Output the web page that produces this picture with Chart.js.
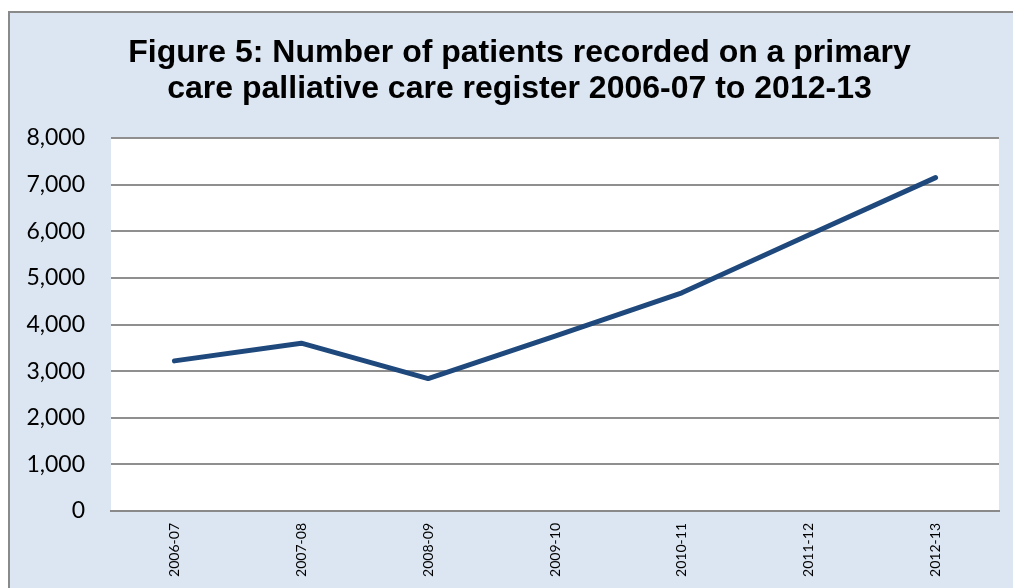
<!DOCTYPE html>
<html>
<head>
<meta charset="utf-8">
<script src="https://cdn.jsdelivr.net/npm/chart.js@4"></script>
<style>
  html, body { margin: 0; padding: 0; background: #ffffff; }
  #wrap { position: relative; width: 1013px; height: 588px; }
</style>
</head>
<body>
<div id="wrap"><canvas id="myChart" width="1013" height="588"></canvas></div>
<script>
// Datos
const categorias = ['2006-07', '2007-08', '2008-09', '2009-10', '2010-11', '2011-12', '2012-13']
const pacientes = [3220, 3600, 2840, 3750, 4680, 5920, 7150]
const tituloLineas = ['Figure 5: Number of patients recorded on a primary', 'care palliative care register 2006-07 to 2012-13']

// Fondo azul con borde gris y area de trazado blanca
const fondoPlugin = {
    id: 'fondo',
    beforeDraw(chart) {
        const ctx = chart.ctx
        const a = chart.chartArea
        ctx.save()
        ctx.fillStyle = '#dce6f2'
        ctx.fillRect(8, 11, chart.width, chart.height)
        ctx.strokeStyle = '#8a8a8a'
        ctx.lineWidth = 2
        ctx.beginPath()
        ctx.moveTo(9, chart.height + 2)
        ctx.lineTo(9, 12)
        ctx.lineTo(chart.width + 2, 12)
        ctx.stroke()
        ctx.fillStyle = '#ffffff'
        ctx.fillRect(a.left, a.top, a.right - a.left, a.bottom - a.top)
        ctx.restore()
    }
}

const ctx = document.querySelector('#myChart').getContext('2d')

new Chart(ctx, {
    type: 'line',
    data: {
        labels: categorias,
        datasets: [{
            label: 'Patients',
            data: pacientes,
            borderColor: '#1f497d',
            borderWidth: 5,
            pointRadius: 0,
            tension: 0,
            borderJoinStyle: 'round',
            borderCapStyle: 'round'
        }]
    },
    options: {
        responsive: false,
        animation: false,
        // sin padding derecho: el titulo queda centrado como en el original
        layout: { padding: { left: 26, right: 0, top: 0, bottom: 0 } },
        plugins: {
            legend: { display: false },
            tooltip: { enabled: false },
            title: {
                display: true,
                text: tituloLineas,
                color: '#000000',
                font: { family: '"Liberation Sans", Arial, sans-serif', size: 32, weight: 'bold', lineHeight: 1.125 },
                padding: { top: 35, bottom: 31 }
            }
        },
        scales: {
            x: {
                offset: true,
                grid: { display: false, drawTicks: false },
                border: { display: true, color: '#8a8a8a', width: 2 },
                ticks: {
                    minRotation: 90,
                    maxRotation: 90,
                    padding: 12,
                    color: '#000000',
                    font: { family: 'Lato, "Open Sans", sans-serif', size: 14 }
                },
                afterFit: (scale) => { scale.height = 77 }
            },
            y: {
                min: 0,
                max: 8000,
                grid: { color: '#8f8f8f', lineWidth: 2, drawTicks: false },
                border: { display: false },
                ticks: {
                    stepSize: 1000,
                    padding: 26,
                    color: '#000000',
                    font: { family: 'Lato, "Open Sans", sans-serif', size: 23 },
                    callback: (v) => v.toLocaleString('en-US')
                },
                afterFit: (scale) => { scale.width = 85 }
            },
            // eje vacio a la derecha solo para reservar el margen
            yDer: {
                position: 'right',
                display: true,
                min: 0,
                max: 8000,
                grid: { display: false, drawTicks: false },
                border: { display: false },
                ticks: { display: false },
                afterFit: (scale) => { scale.width = 14 }
            }
        }
    },
    plugins: [fondoPlugin]
})
</script>
</body>
</html>
